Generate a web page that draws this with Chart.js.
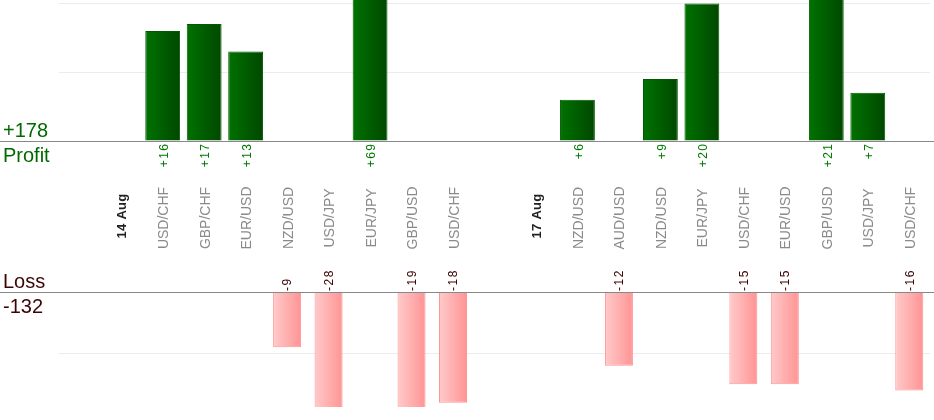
<!DOCTYPE html>
<html>
<head>
<meta charset="utf-8">
<script src="https://cdn.jsdelivr.net/npm/chart.js@4"></script>
<style>
    body { margin: 0; background: #fff; }
    #wrap { position: relative; width: 934px; height: 420px; overflow: hidden; font-family: "Liberation Sans", Arial, sans-serif; }
    #wrap canvas { position: absolute; left: 0; top: 0; }
    .side { position: absolute; left: 3px; font-size: 20px; line-height: 20px; white-space: nowrap; }
    .green { color: #006a00; }
    .brown { color: #3a0505; }
</style>
</head>
<body>
<div id="wrap">
    <canvas id="profitChart" width="934" height="420"></canvas>
    <canvas id="lossChart" width="934" height="420"></canvas>
    <div class="side green" id="profitTotal" style="top:120px"></div>
    <div class="side green" style="top:145px">Profit</div>
    <div class="side brown" style="top:271px">Loss</div>
    <div class="side brown" id="lossTotal" style="top:296px"></div>
</div>
<script>
// categories: empty slots separate the two trading days
const categories = ["", "14 Aug", "USD/CHF", "GBP/CHF", "EUR/USD", "NZD/USD", "USD/JPY", "EUR/JPY", "GBP/USD", "USD/CHF",
    "", "17 Aug", "NZD/USD", "AUD/USD", "NZD/USD", "EUR/JPY", "USD/CHF", "EUR/USD", "GBP/USD", "USD/JPY", "USD/CHF"];
const dateSlots = [1, 11];

const profitValues = [null, null, 16, 17, 13, null, null, 69, null, null,
    null, null, 6, null, 9, 20, null, null, 21, 7, null];
const lossValues = [null, null, null, null, null, -9, -28, null, -19, -18,
    null, null, null, -12, null, null, -15, -15, null, null, -16];

const profitTicks = [0, 10, 20];
const lossTicks = [0, -10];

const FONT = '"Liberation Sans", Arial, sans-serif';

const profitSum = profitValues.reduce((s, v) => s + (v || 0), 0);
const lossSum = lossValues.reduce((s, v) => s + (v || 0), 0);
document.getElementById("profitTotal").textContent = "+" + profitSum;
document.getElementById("lossTotal").textContent = String(lossSum);

// rotated text helper (reads bottom to top)
function vText(ctx, text, x, y, align) {
    ctx.save();
    ctx.translate(x, y);
    ctx.rotate(-Math.PI / 2);
    ctx.textAlign = align;
    ctx.textBaseline = "middle";
    ctx.fillText(text, 0, 0);
    ctx.restore();
}

// horizontal gradient across each bar
function barGradient(pct, left, right) {
    return function (context) {
        const chart = context.chart;
        const xScale = chart.scales.x;
        if (!xScale || !chart.chartArea) return right;
        const cx = xScale.getPixelForValue(context.dataIndex);
        const half = (xScale.width / categories.length) * pct / 2;
        const g = chart.ctx.createLinearGradient(cx - half, 0, cx + half, 0);
        g.addColorStop(0, left);
        g.addColorStop(1, right);
        return g;
    };
}

function yAxis(min, max, ticks) {
    return {
        min: min,
        max: max,
        afterFit: s => { s.width = 59; },
        afterBuildTicks: s => { s.ticks = ticks.map(v => ({ value: v })); },
        ticks: { display: false },
        grid: { color: "#ececec", drawTicks: false },
        border: { display: false }
    };
}

const profitPlugin = {
    id: "profitText",
    afterDraw(chart) {
        const ctx = chart.ctx;
        const xScale = chart.scales.x;
        const base = Math.round(chart.scales.y.getPixelForValue(0)) + 0.5;

        ctx.save();
        ctx.strokeStyle = "#888";
        ctx.lineWidth = 1;
        ctx.beginPath();
        ctx.moveTo(0, base);
        ctx.lineTo(chart.width, base);
        ctx.stroke();

        // profit values under the baseline
        ctx.fillStyle = "#007a00";
        ctx.font = "12px " + FONT;
        ctx.letterSpacing = "1.5px";
        profitValues.forEach((v, i) => {
            if (v == null) return;
            vText(ctx, "+" + v, xScale.getPixelForValue(i) + 2, base + 1, "right");
        });

        // category labels in the middle band
        categories.forEach((c, i) => {
            if (!c) return;
            const x = xScale.getPixelForValue(i) + 1.7;
            if (dateSlots.includes(i)) {
                ctx.fillStyle = "#222";
                ctx.font = "bold 13px " + FONT;
                ctx.letterSpacing = "0.3px";
                vText(ctx, c, x, 216, "center");
            } else {
                ctx.fillStyle = "#8a8a8a";
                ctx.font = "14px " + FONT;
                ctx.letterSpacing = "0px";
                vText(ctx, c, x, 218, "center");
            }
        });
        ctx.restore();
    }
};

const lossPlugin = {
    id: "lossText",
    afterDraw(chart) {
        const ctx = chart.ctx;
        const xScale = chart.scales.x;
        const base = Math.round(chart.scales.y.getPixelForValue(0)) + 0.5;

        ctx.save();
        ctx.strokeStyle = "#888";
        ctx.lineWidth = 1;
        ctx.beginPath();
        ctx.moveTo(0, base);
        ctx.lineTo(chart.width, base);
        ctx.stroke();

        // loss values above the baseline
        ctx.fillStyle = "#3c0000";
        ctx.font = "12px " + FONT;
        ctx.letterSpacing = "1.5px";
        lossValues.forEach((v, i) => {
            if (v == null) return;
            vText(ctx, String(v), xScale.getPixelForValue(i) + 1, base - 1.5, "left");
        });
        ctx.restore();
    }
};

function makeChart(id, values, pct, colors, border, y, padding, plugin) {
    return new Chart(document.getElementById(id), {
        type: "bar",
        data: {
            labels: categories,
            datasets: [{
                data: values,
                backgroundColor: barGradient(pct, colors[0], colors[1]),
                borderColor: border,
                borderWidth: 1,
                borderSkipped: "start",
                barPercentage: pct,
                categoryPercentage: 1
            }]
        },
        options: {
            responsive: false,
            animation: false,
            devicePixelRatio: 1,
            layout: { padding: padding },
            plugins: { legend: { display: false }, tooltip: { enabled: false } },
            scales: {
                x: { display: false },
                y: y
            }
        },
        plugins: [plugin]
    });
}

makeChart("profitChart", profitValues, 0.84, ["#007200", "#004800"], "#005a00",
    yAxis(0, 20.5, profitTicks), { top: 0, right: 4, bottom: 279, left: 0 }, profitPlugin);

makeChart("lossChart", lossValues, 0.675, ["#ffcaca", "#ff9494"], "#ff9494",
    yAxis(-18.7, 0, lossTicks), { top: 292, right: 4, bottom: 13, left: 0 }, lossPlugin);
</script>
</body>
</html>
